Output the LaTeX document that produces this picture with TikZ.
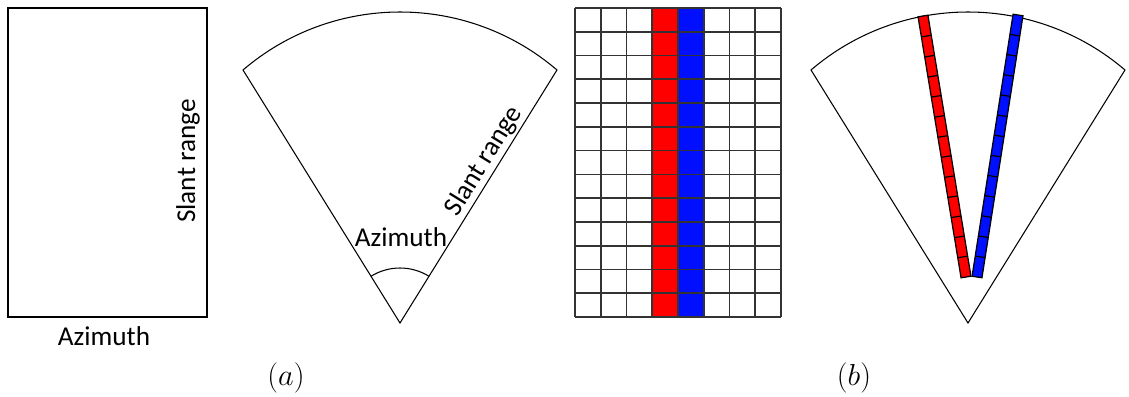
\documentclass[tikz,border=0pt]{standalone}
\usepackage{fontspec}
\setmainfont{Carlito}
\usepackage{xcolor}
\definecolor{gridink}{HTML}{333333}
\definecolor{rangered}{HTML}{FF0000}
\definecolor{rangeblue}{HTML}{0010FF}

\begin{document}
\begin{tikzpicture}[x=0.02cm, y=0.02cm, font=\fontsize{15.5}{18}\selectfont]
  % --- the constants everything else is derived from -----------------------
  \def\gx{575}     % left edge of the grid
  \def\gy{79}      % bottom edge of the grid
  \def\cw{25.75}   % column pitch of the grid
  \def\rh{23.77}   % row pitch of the grid (13 rows)
  \def\hw{5}       % half width of a beam strip

  \tikzset{
    frame/.style={draw=black, line width=0.7pt},
    fan/.style={draw=black, line width=0.6pt},
    gridline/.style={draw=gridink, line width=1pt},
    cell/.style={draw=black, line width=0.7pt},
    lbl/.style={inner sep=0pt},
    sub/.style={inner sep=0pt, font=\fontsize{19}{22}\selectfont}}

  \useasboundingbox (0,0) rectangle (1129,396);

  % ---- 1. the slant-range / azimuth frame -----------------------------------
  \draw[frame] (8,79) rectangle (207,388);
  \node[lbl] (azrect) at (104,60) {Azimuth};
  \node[lbl, rotate=90] (srrect) at (188,235) {Slant range};

  % ---- 2. the two fans, same shape, shifted -------------------------------
  \foreach \ax in {400,968}{
    \draw[fan] (\ax,73) -- (\ax-157,326)
      arc[start angle=130.55, end angle=49.45, radius=241.5] -- cycle;}

  % azimuth angle on the first fan
  \draw[fan] (400,73) ++(58.2:55)
    arc[start angle=58.2, end angle=121.8, radius=55];
  \node[lbl] (azfan) at (401,159) {Azimuth};
  \node[lbl, rotate=58.2, anchor=base] (srfan) at (490,231) {Slant range};

  % ---- 3. the grid, with the two highlighted range columns ----------------
  \fill[rangered]  (\gx+3*\cw,\gy) rectangle ++(\cw,13*\rh);
  \fill[rangeblue] (\gx+4*\cw,\gy) rectangle ++(\cw,13*\rh);
  \foreach \i in {0,...,8}{
    \draw[gridline] (\gx+\i*\cw,\gy) -- ++(0,13*\rh);}
  \foreach \j in {0,...,13}{
    \draw[gridline] (\gx,\gy+\j*\rh) -- ++(8*\cw,0);}

  % ---- 4. the same columns laid into the second fan -----------------------
  \begin{scope}[shift={(966,119)}, rotate=99.36]
    \fill[rangered] (0,-\hw) rectangle (264.5,\hw);
    \foreach \k in {1,...,12}{
      \draw[cell] (\k*264.5/13,-\hw) -- ++(0,2*\hw);}
    \draw[cell] (0,-\hw) rectangle (264.5,\hw);
  \end{scope}
  \begin{scope}[shift={(977,119)}, rotate=81.1]
    \fill[rangeblue] (0,-\hw) rectangle (265.2,\hw);
    \foreach \k in {1,...,12}{
      \draw[cell] (\k*265.2/13,-\hw) -- ++(0,2*\hw);}
    \draw[cell] (0,-\hw) rectangle (265.2,\hw);
  \end{scope}

  % ---- 5. sub-captions ------------------------------------------------------
  \node[sub] (capa) at (286,18) {$(a)$};
  \node[sub] (capb) at (854,18) {$(b)$};
\end{tikzpicture}
\end{document}
